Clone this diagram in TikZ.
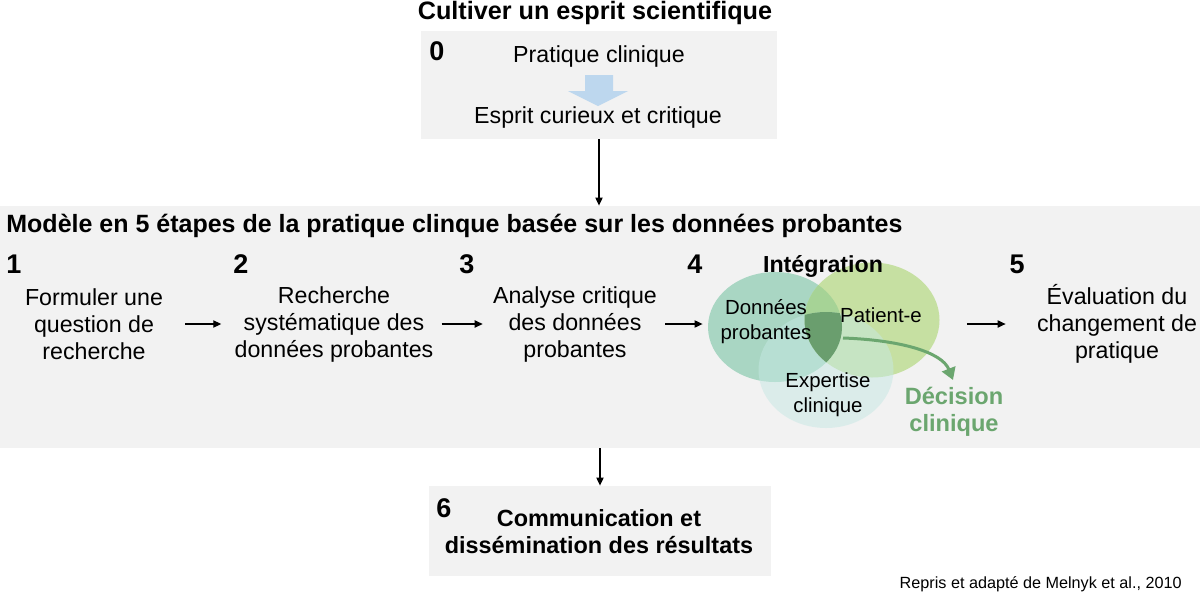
\documentclass[tikz,border=0pt]{standalone}
\usepackage{fontspec}
\setmainfont{Liberation Sans}
\usetikzlibrary{arrows.meta,shapes.geometric}

\definecolor{boxgray}{HTML}{F2F2F2}
\definecolor{blockblue}{HTML}{BDD7EE}
\definecolor{dataC}{HTML}{A9D6C3}
\definecolor{patC}{HTML}{C6E0A2}
\definecolor{dataPatC}{HTML}{A6D396}
\definecolor{expC}{HTML}{C6E8E4}
\definecolor{coreC}{HTML}{6A9E6E}
\definecolor{decGreen}{HTML}{6BA66F}

\tikzset{
	graybox/.style = {fill=boxgray, draw=none, inner sep=0pt},
	steptext/.style = {align=center, inner sep=0pt, font=\fontsize{11.6}{13.5}\selectfont},
	stepnum/.style = {anchor=base, inner sep=0pt, font=\bfseries\fontsize{13.5}{15}\selectfont},
	venntext/.style = {align=center, inner sep=0pt, font=\fontsize{10.2}{12.5}\selectfont},
	vennset/.style = {ellipse, draw=none, inner sep=0pt},
	flow/.style = {-{Triangle[length=4pt,width=3.6pt]}, line width=0.65pt},
}

\begin{document}
\begin{tikzpicture}[x=0.5pt,y=-0.5pt]
	\useasboundingbox (0,0) rectangle (1200,595);

	% step 0
	\node[anchor=base, inner sep=0pt, font=\bfseries\fontsize{12.6}{14}\selectfont] (cultTitle) at (595,19) {Cultiver un esprit scientifique};
	\node[graybox, minimum width=178pt, minimum height=54pt] (box0) at (599,85) {};
	\node[stepnum] (num0) at (437,60) {0};
	\node[anchor=base, inner sep=0pt, font=\fontsize{11.6}{13.5}\selectfont] (practice) at (599,62) {Pratique clinique};
	\node[anchor=base, inner sep=0pt, font=\fontsize{11.6}{13.5}\selectfont] (curious) at (598,123) {Esprit curieux et critique};
	\fill[blockblue] (585,75) -- (613,75) -- (613,91) -- (628,91) -- (598,106) -- (568,91) -- (585,91) -- cycle;

	% steps 1 to 5
	\node[graybox, minimum width=600pt, minimum height=121pt] (bigbox) at (600,327) {};
	\draw[flow] (box0.south) -- (box0.south |- bigbox.north);
	\node[anchor=base west, inner sep=0pt, font=\bfseries\fontsize{12.5}{14}\selectfont] (modelTitle) at (6,232) {Modèle en 5 étapes de la pratique clinque basée sur les données probantes};

	\node[stepnum] (num1) at (14,273) {1};
	\node[stepnum] (num2) at (241,273) {2};
	\node[stepnum] (num3) at (467,273) {3};
	\node[stepnum] (num4) at (695,273) {4};
	\node[stepnum] (num5) at (1017,273) {5};

	\node[steptext] (step1) at (94,324) {Formuler une\\question de\\recherche};
	\node[steptext] (step2) at (334,324) {Recherche\\systématique des\\données probantes};
	\node[steptext] (step3) at (575,324) {Analyse critique\\des données\\probantes};
	\node[steptext] (step5) at (1117,324) {Évaluation du\\changement de\\pratique};

	% step 4: integration
	\node[vennset, fill=dataC, minimum width=67pt, minimum height=55pt] (dataSet) at (775,327) {};
	\node[vennset, fill=patC, minimum width=67.5pt, minimum height=57.5pt] (patSet) at (872,320) {};
	\begin{scope}
		\clip (775,327) ellipse [x radius=33.5pt, y radius=27.5pt];
		\fill[dataPatC] (872,320) ellipse [x radius=33.75pt, y radius=28.75pt];
	\end{scope}
	\node[vennset, fill=expC, fill opacity=0.5, minimum width=67.5pt, minimum height=58pt] (expSet) at (826,370) {};
	\begin{scope}
		\clip (775,327) ellipse [x radius=33.5pt, y radius=27.5pt];
		\clip (872,320) ellipse [x radius=33.75pt, y radius=28.75pt];
		\fill[coreC] (826,370) ellipse [x radius=33.75pt, y radius=29pt];
	\end{scope}

	\node[anchor=base, inner sep=0pt, font=\bfseries\fontsize{11.6}{13.5}\selectfont] (integration) at (823,272) {Intégration};
	\node[venntext] (dataText) at (766,322) {Données\\probantes};
	\node[venntext] (patText) at (881,315) {Patient-e};
	\node[venntext] (expText) at (828,395) {Expertise\\clinique};
	\node[align=center, inner sep=0pt, text=decGreen, font=\bfseries\fontsize{11.8}{13.5}\selectfont] (decision) at (954,412) {Décision\\clinique};

	\coordinate (core) at (843,338);
	\coordinate (decTip) at (953,380);
	\draw[decGreen, line width=1.5pt, -{Triangle[length=6pt,width=7pt]}] (core) .. controls (900,340) and (942,352) .. (decTip);

	\draw[flow, shorten <=11pt, shorten >=6.5pt] (step1.east) -- (step2.west);
	\draw[flow, shorten <=4pt, shorten >=5pt] (step2.east) -- (step3.west |- step2.east);
	\draw[flow, shorten <=4pt, shorten >=2.5pt] (step3.east) -- (step3.east -| dataSet.west);
	\draw[flow, shorten <=13.5pt, shorten >=15.5pt] (step5.west -| patSet.east) -- (step5.west);

	% step 6
	\node[graybox, minimum width=171pt, minimum height=45pt] (box6) at (600,531) {};
	\draw[flow] (box6.north |- bigbox.south) -- (box6.north);
	\node[stepnum] (num6) at (444,517) {6};
	\node[align=center, inner sep=0pt, font=\bfseries\fontsize{11.7}{13.5}\selectfont] (communication) at (599,532) {Communication et\\dissémination des résultats};

	\node[anchor=base east, inner sep=0pt, font=\fontsize{8.1}{10}\selectfont] (source) at (1182,588) {Repris et adapté de Melnyk et al., 2010};
\end{tikzpicture}
\end{document}
